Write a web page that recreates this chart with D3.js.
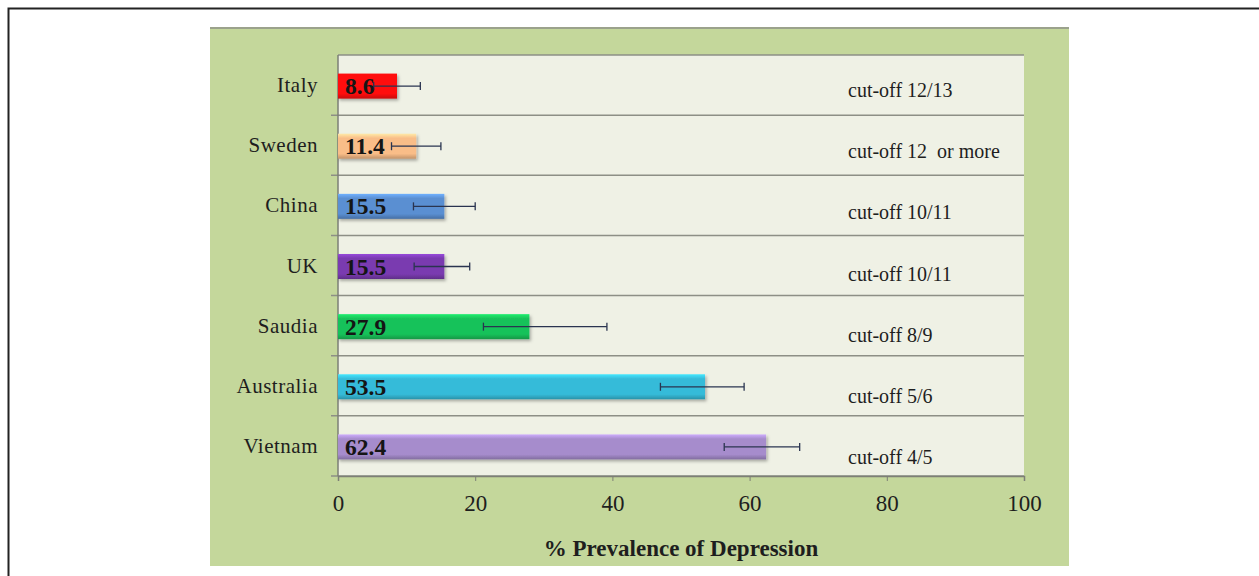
<!DOCTYPE html>
<html>
<head>
<meta charset="utf-8">
<script src="https://cdn.jsdelivr.net/npm/d3@7"></script>
<style>
  body { margin: 0; background: #fff; }
  svg { display: block; }
</style>
</head>
<body>
<div id="chart"></div>
<script>
const countries = ["Italy", "Sweden", "China", "UK", "Saudia", "Australia", "Vietnam"]
const prevalence = [8.6, 11.4, 15.5, 15.5, 27.9, 53.5, 62.4]
const errLow = [5.2, 7.8, 11.0, 11.1, 21.2, 47.0, 56.3]
const errHigh = [12.0, 15.0, 20.0, 19.2, 39.2, 59.2, 67.3]
const cutoffs = ["cut-off 12/13", "cut-off 12  or more", "cut-off 10/11", "cut-off 10/11", "cut-off 8/9", "cut-off 5/6", "cut-off 4/5"]
const barColors = ["#ff0d0d", "#f9bd88", "#5a8fd2", "#7a3bb0", "#19c25a", "#36bbd9", "#a68ccc"]
const xTicks = [0, 20, 40, 60, 80, 100]

const width = 1259, height = 576
const margin = {top: 55, right: 235, bottom: 100, left: 338}
const serif = "'Liberation Serif', 'Times New Roman', serif"

const svg = d3.select("#chart")
  .append("svg")
  .attr("width", width)
  .attr("height", height)

// outer frame (only top and left edges are visible)
svg.append("path")
  .attr("d", "M8.5,576 V8.5 H1259")
  .attr("fill", "none")
  .attr("stroke", "#222")
  .attr("stroke-width", 2)

// green panel
svg.append("rect")
  .attr("x", 210).attr("y", 27)
  .attr("width", 859).attr("height", 539)
  .attr("fill", "#c4d79b")
svg.append("line")
  .attr("x1", 210).attr("x2", 1069)
  .attr("y1", 28).attr("y2", 28)
  .attr("stroke", "#9ba28c").attr("stroke-width", 2)

const x = d3.scaleLinear()
  .domain([0, 100])
  .range([margin.left, width - margin.right])

const y = d3.scaleBand()
  .domain(countries)
  .range([margin.top, height - margin.bottom])

const cutY = d3.scalePoint()
  .domain(countries)
  .range([90, 457])

// plot background
svg.append("rect")
  .attr("x", x(0)).attr("y", margin.top)
  .attr("width", x(100) - x(0))
  .attr("height", height - margin.bottom - margin.top)
  .attr("fill", "#eff1e5")

// row separators
const seps = d3.range(countries.length + 1).map(i => margin.top + i * y.step())
svg.append("g")
  .selectAll("line")
  .data(seps)
  .join("line")
  .attr("x1", (d, i) => i === 0 ? x(0) : x(0) - 7)
  .attr("x2", x(100))
  .attr("y1", d => d).attr("y2", d => d)
  .attr("stroke", "#8d8f86")
  .attr("stroke-width", 1.5)

// left axis line
svg.append("line")
  .attr("x1", x(0)).attr("x2", x(0))
  .attr("y1", margin.top).attr("y2", height - margin.bottom)
  .attr("stroke", "#7d7f76")
  .attr("stroke-width", 1.5)

// gradients for bars
const defs = svg.append("defs")
barColors.forEach((c, i) => {
  const g = defs.append("linearGradient")
    .attr("id", "grad" + i)
    .attr("x1", 0).attr("y1", 0).attr("x2", 0).attr("y2", 1)
  g.append("stop").attr("offset", "0%").attr("stop-color", d3.color(c).brighter(0.6))
  g.append("stop").attr("offset", "18%").attr("stop-color", c)
  g.append("stop").attr("offset", "80%").attr("stop-color", c)
  g.append("stop").attr("offset", "100%").attr("stop-color", d3.color(c).darker(0.7))
})
const shadow = defs.append("filter").attr("id", "shadow")
  .attr("x", "-5%").attr("y", "-20%").attr("width", "115%").attr("height", "160%")
shadow.append("feDropShadow")
  .attr("dx", 1.5).attr("dy", 2).attr("stdDeviation", 1.5)
  .attr("flood-color", "#000").attr("flood-opacity", 0.3)

const barH = 25
svg.append("g")
  .selectAll("rect")
  .data(countries)
  .join("rect")
  .attr("x", x(0))
  .attr("y", d => y(d) + y.bandwidth() / 2 - barH / 2 + 1)
  .attr("width", (d, i) => x(prevalence[i]) - x(0))
  .attr("height", barH)
  .attr("fill", (d, i) => `url(#grad${i})`)
  .attr("filter", "url(#shadow)")

// error bars
const err = svg.append("g").attr("stroke", "#2a3450").attr("stroke-width", 1.3)
countries.forEach((c, i) => {
  const cy = y(c) + y.bandwidth() / 2 + 1
  err.append("line")
    .attr("x1", x(errLow[i])).attr("x2", x(errHigh[i]))
    .attr("y1", cy).attr("y2", cy)
  ;[errLow[i], errHigh[i]].forEach(v => {
    err.append("line")
      .attr("x1", x(v)).attr("x2", x(v))
      .attr("y1", cy - 4).attr("y2", cy + 4)
  })
})

// value labels
svg.append("g")
  .selectAll("text")
  .data(countries)
  .join("text")
  .attr("x", x(0) + 7)
  .attr("y", d => y(d) + y.bandwidth() / 2 + 9)
  .attr("font-family", serif)
  .attr("font-weight", "bold")
  .attr("font-size", 23.5)
  .attr("fill", "#151515")
  .text((d, i) => prevalence[i])

// country labels
svg.append("g")
  .selectAll("text")
  .data(countries)
  .join("text")
  .attr("x", 318)
  .attr("y", d => y(d) + y.bandwidth() / 2 + 7)
  .attr("text-anchor", "end")
  .attr("font-family", serif)
  .attr("font-size", 21)
  .attr("letter-spacing", 0.5)
  .attr("fill", "#1e1e1e")
  .text(d => d)

// cut-off notes
svg.append("g")
  .selectAll("text")
  .data(countries)
  .join("text")
  .attr("x", 848)
  .attr("y", d => cutY(d) + 7)
  .attr("font-family", serif)
  .attr("font-size", 20)
  .attr("fill", "#1e1e1e")
  .style("white-space", "pre")
  .text((d, i) => cutoffs[i])

// x axis
const xAxis = svg.append("g")
  .attr("transform", `translate(0, ${height - margin.bottom})`)
  .call(d3.axisBottom(x).tickValues(xTicks).tickSize(5).tickPadding(14))
xAxis.select(".domain").attr("stroke", "#7d7f76").attr("stroke-width", 1.5)
xAxis.selectAll(".tick line").attr("stroke", "#7d7f76")
xAxis.selectAll("text")
  .attr("font-family", serif)
  .attr("font-size", 23)
  .attr("fill", "#1e1e1e")

svg.append("text")
  .attr("x", (x(0) + x(100)) / 2)
  .attr("y", 556)
  .attr("text-anchor", "middle")
  .attr("font-family", serif)
  .attr("font-weight", "bold")
  .attr("font-size", 23)
  .attr("fill", "#1e1e1e")
  .text("% Prevalence of Depression")
</script>
</body>
</html>
